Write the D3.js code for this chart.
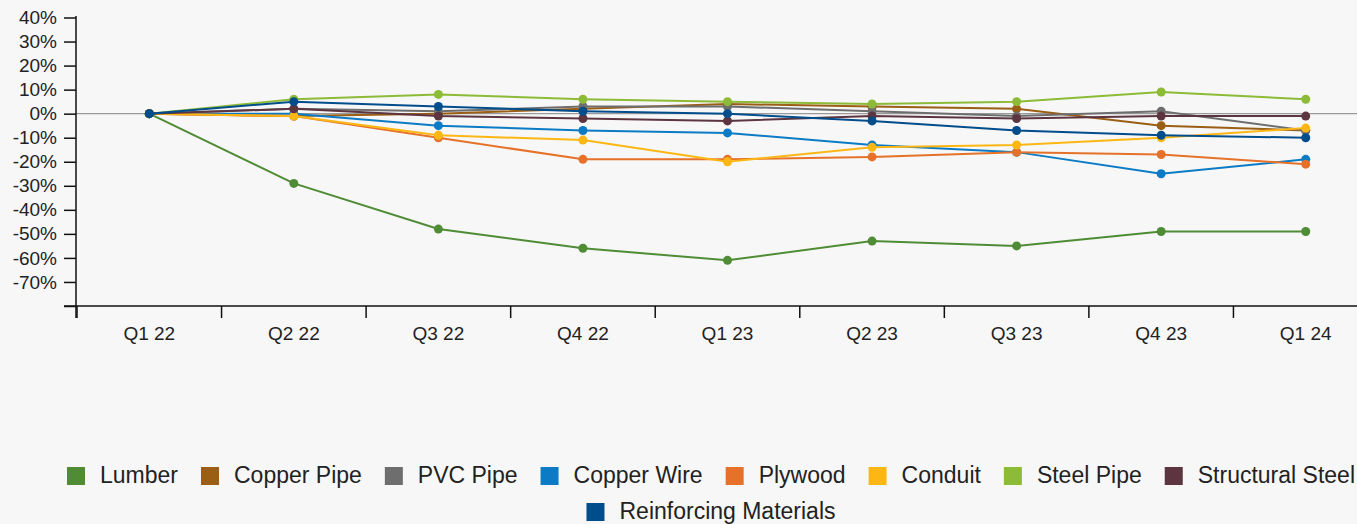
<!DOCTYPE html>
<html>
<head>
<meta charset="utf-8">
<script src="https://cdn.jsdelivr.net/npm/d3@7"></script>
<style>
  html, body { margin: 0; padding: 0; background: #f7f7f7; }
  svg { display: block; font-family: "Liberation Sans", Arial, sans-serif; }
</style>
</head>
<body>
<div class="chart"></div>
<script>
// --- data (% change vs Q1 22)
var quarters = ["Q1 22", "Q2 22", "Q3 22", "Q4 22", "Q1 23", "Q2 23", "Q3 23", "Q4 23", "Q1 24"];
var yTicks = [-80, -70, -60, -50, -40, -30, -20, -10, 0, 10, 20, 30, 40];

var seriesNames = ["Lumber", "Copper Pipe", "PVC Pipe", "Copper Wire", "Plywood", "Conduit", "Steel Pipe", "Structural Steel", "Reinforcing Materials"];
var seriesColors = ["#4f8c35", "#9b5e15", "#6e6e6e", "#0a7bc4", "#e6722a", "#fdb714", "#8dbb38", "#5c3540", "#014d8c"];

var lumber          = [0, -29, -48, -56, -61, -53, -55, -49, -49];
var copperPipe      = [0, -1, 0, 2, 4, 3, 2, -5, -7];
var pvcPipe         = [0, 2, 1, 3, 3, 1, -1, 1, -7];
var copperWire      = [0, 0, -5, -7, -8, -13, -16, -25, -19];
var plywood         = [0, -1, -10, -19, -19, -18, -16, -17, -21];
var conduit         = [0, -1, -9, -11, -20, -14, -13, -10, -6];
var steelPipe       = [0, 6, 8, 6, 5, 4, 5, 9, 6];
var structuralSteel = [0, 2, -1, -2, -3, -1, -2, -1, -1];
var reinforcing     = [0, 5, 3, 1, 0, -3, -7, -9, -10];

var seriesValues = [lumber, copperPipe, pvcPipe, copperWire, plywood, conduit, steelPipe, structuralSteel, reinforcing];

var W = 1357, H = 524;
var svg = d3.select('.chart').append('svg')
  .attr('width', W)
  .attr('height', H);

// scales: chart is wider than the window, last band runs off the right edge
var x = d3.scaleBand().domain(quarters).range([77, 1378]);
var y = d3.scaleLinear().domain([-80, 40]).range([306, 17.5]);

// zero line
svg.append('line')
  .attr('x1', 76).attr('x2', W)
  .attr('y1', y(0)).attr('y2', y(0))
  .attr('stroke', '#9a9a9a').attr('stroke-width', 1.2);

// y axis
var yAxis = svg.append('g')
  .attr('transform', 'translate(76,0)')
  .call(d3.axisLeft(y).tickValues(yTicks).tickSize(12).tickPadding(7)
    .tickFormat(function(d) { return d === -80 ? '' : d + '%'; }));
yAxis.select('.domain').attr('d', 'M0,16V318').attr('stroke', '#111').attr('stroke-width', 1.5);
yAxis.selectAll('.tick line').attr('stroke', '#111').attr('stroke-width', 1.5);
yAxis.selectAll('text').attr('font-size', 19).attr('fill', '#222')
  .attr('font-family', '"Liberation Sans", Arial, sans-serif');

// x axis: ticks sit on band boundaries, labels in the middle
var xAxis = svg.append('g').attr('transform', 'translate(0,306)');
xAxis.append('line')
  .attr('x1', 64).attr('x2', W).attr('y1', 0).attr('y2', 0)
  .attr('stroke', '#111').attr('stroke-width', 1.5);
xAxis.selectAll('line.tk')
  .data(quarters)
  .enter().append('line')
  .attr('class', 'tk')
  .attr('x1', function(d) { return x(d); })
  .attr('x2', function(d) { return x(d); })
  .attr('y1', 0).attr('y2', 12)
  .attr('stroke', '#111').attr('stroke-width', 1.5);
xAxis.selectAll('text')
  .data(quarters)
  .enter().append('text')
  .attr('x', function(d) { return x(d) + x.bandwidth() / 2; })
  .attr('y', 34)
  .attr('text-anchor', 'middle')
  .attr('font-size', 19)
  .attr('fill', '#222')
  .text(function(d) { return d; });

// lines + markers
var line = d3.line()
  .x(function(d, i) { return x(quarters[i]) + x.bandwidth() / 2; })
  .y(function(d) { return y(d); });

seriesValues.forEach(function(vals, s) {
  var g = svg.append('g');
  g.append('path')
    .attr('d', line(vals))
    .attr('fill', 'none')
    .attr('stroke', seriesColors[s])
    .attr('stroke-width', 2);
  g.selectAll('circle')
    .data(vals)
    .enter().append('circle')
    .attr('cx', function(d, i) { return x(quarters[i]) + x.bandwidth() / 2; })
    .attr('cy', function(d) { return y(d); })
    .attr('r', 4.5)
    .attr('fill', seriesColors[s]);
});

// legend, wrapped into centred rows
var legend = svg.append('g');
var items = seriesNames.map(function(name, i) {
  var g = legend.append('g');
  g.append('rect').attr('width', 18).attr('height', 18).attr('y', -16).attr('fill', seriesColors[i]);
  var t = g.append('text').attr('x', 33).attr('font-size', 23).attr('fill', '#222').text(name);
  return { g: g, w: 33 + t.node().getComputedTextLength() };
});
var rows = [[]], rowW = [0], maxW = 1320, gap = 23;
items.forEach(function(it) {
  var r = rows.length - 1;
  var add = (rows[r].length ? gap : 0) + it.w;
  if (rowW[r] + add > maxW) { rows.push([it]); rowW.push(it.w); }
  else { rows[r].push(it); rowW[r] += add; }
});
rows.forEach(function(row, r) {
  var cx = 711 - rowW[r] / 2;
  row.forEach(function(it) {
    it.g.attr('transform', 'translate(' + cx + ',' + (483 + r * 36) + ')');
    cx += it.w + gap;
  });
});
</script>
</body>
</html>
